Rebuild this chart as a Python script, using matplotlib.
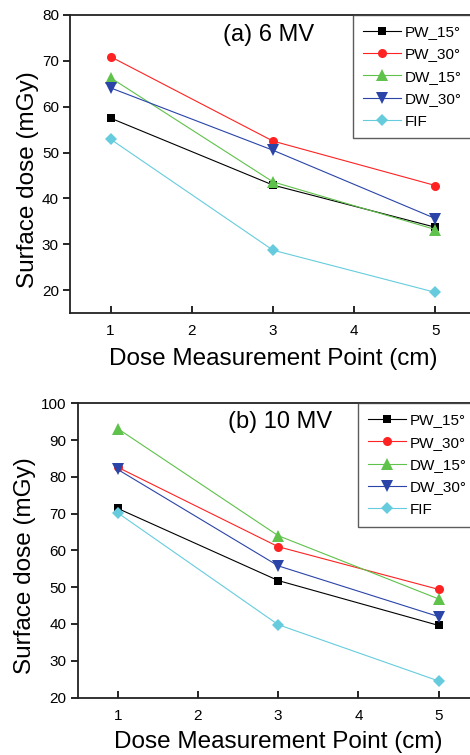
import numpy as np
import matplotlib.pyplot as plt

plt.rcParams['font.family'] = ['Liberation Sans', 'DejaVu Sans']

# data
points = [1, 3, 5]
names = ['PW_15', 'PW_30', 'DW_15', 'DW_30', 'FIF']
labels = ['PW_15\u00b0', 'PW_30\u00b0', 'DW_15\u00b0', 'DW_30\u00b0', 'FIF']

dose_6mv = {
    'PW_15': [57.5, 42.9, 33.7],
    'PW_30': [70.9, 52.5, 42.8],
    'DW_15': [66.3, 43.6, 33.2],
    'DW_30': [64.1, 50.5, 35.6],
    'FIF':   [52.9, 28.7, 19.5],
}
dose_10mv = {
    'PW_15': [71.4, 51.8, 39.6],
    'PW_30': [82.6, 61.0, 49.4],
    'DW_15': [93.1, 64.0, 46.8],
    'DW_30': [82.0, 55.8, 42.0],
    'FIF':   [70.2, 39.8, 24.5],
}

colors = ['#000000', '#ff2222', '#5fc24a', '#2a44a8', '#66ccdd']
markers = ['s', 'o', '^', 'v', 'D']
msizes = [6, 6.5, 8, 8, 6]

fig = plt.figure(figsize=(4.7, 7.55), dpi=100)

panels = [
    dict(pos=[70/470, 1-313/755, 406/470, 298/755], data=dose_6mv, title='(a) 6 MV',
         ylim=(15, 80), yticks=np.arange(20, 81, 10), tpos=(0.488, 0.933),
         leg=(353/470, 1-15/755), ylc=(-0.076, 0.446), xlc=(0.501, -0.118)),
    dict(pos=[77.7/470, 1-697.5/755, 401/470, 294.2/755], data=dose_10mv, title='(b) 10 MV',
         ylim=(20, 100), yticks=np.arange(20, 101, 10), tpos=(0.505, 0.937),
         leg=(357.7/470, 1-403.3/755), ylc=(-0.104, 0.447), xlc=(0.5, -0.115)),
]

for p in panels:
    ax = fig.add_axes(p['pos'])
    for n, lab, c, m, ms in zip(names, labels, colors, markers, msizes):
        ax.plot(points, p['data'][n], color=c, marker=m, markersize=ms, lw=0.8,
                markeredgewidth=0, label=lab)
    ax.set_xlim(0.5, 5.5)
    ax.set_ylim(*p['ylim'])
    ax.set_xticks([1, 2, 3, 4, 5])
    ax.set_yticks(p['yticks'])
    ax.tick_params(axis='x', direction='in', length=5, width=1.2, labelsize=11, pad=8)
    ax.tick_params(axis='y', direction='out', length=5, width=1.2, labelsize=11, pad=3)
    for s in ax.spines.values():
        s.set_linewidth(1.3)
        s.set_color('#222222')
    ax.set_xlabel('Dose Measurement Point (cm)', fontsize=17.5)
    ax.set_ylabel('Surface dose (mGy)', fontsize=17.5)
    ax.xaxis.set_label_coords(*p['xlc'])
    ax.yaxis.set_label_coords(*p['ylc'])
    ax.text(p['tpos'][0], p['tpos'][1], p['title'], transform=ax.transAxes,
            ha='center', va='center', fontsize=17)
    leg = ax.legend(loc='upper left', bbox_to_anchor=p['leg'], bbox_transform=fig.transFigure,
                    fontsize=11, frameon=True, fancybox=False, borderaxespad=0,
                    handlelength=2.5, handletextpad=0.25, labelspacing=0.55,
                    borderpad=0.65)
    leg.get_frame().set_edgecolor('#333333')
    leg.get_frame().set_linewidth(1.0)

fig.savefig('out.png', dpi=100)
